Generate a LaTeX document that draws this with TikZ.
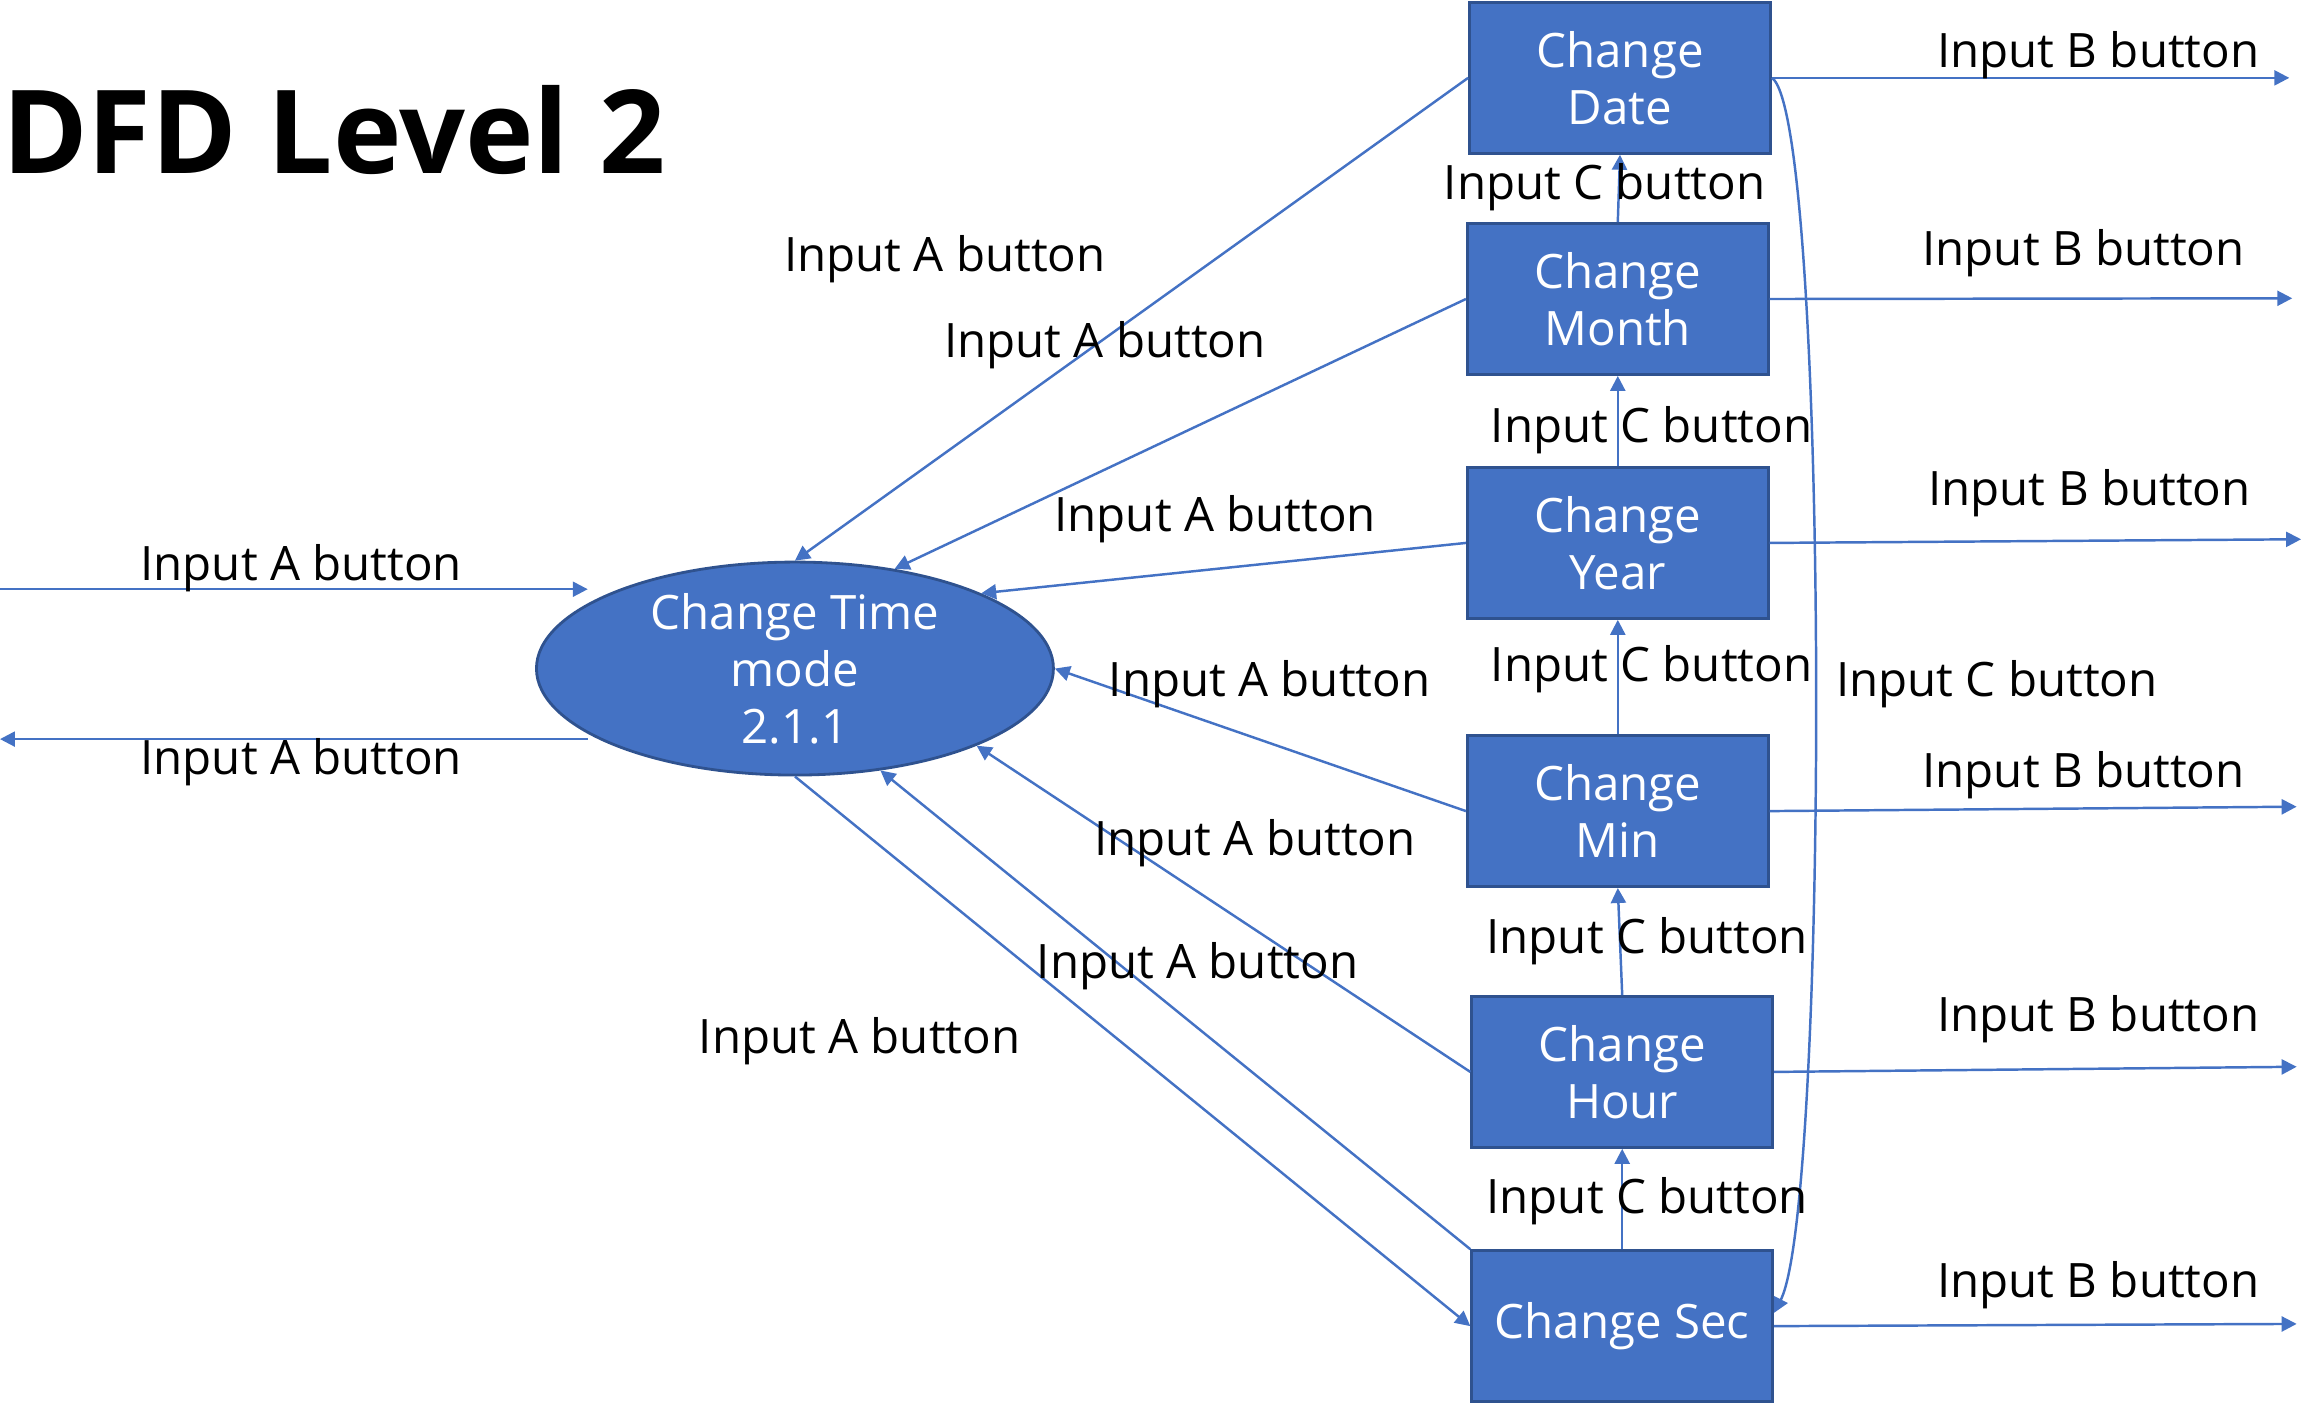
\documentclass[tikz,border=0pt]{standalone}
\usepackage{fontspec}
\setmainfont{Open Sans}
\usetikzlibrary{shapes.geometric,arrows.meta}
\definecolor{dfdblue}{HTML}{4472C4}
\definecolor{dfdedge}{HTML}{2F528F}
\tikzstyle{procbox} = [draw=dfdedge, fill=dfdblue, line width=0.8pt,
    rectangle, minimum width=3.01cm, minimum height=1.51cm, inner sep=0,
    align=center, text=white, font=\fontsize{13.5}{16.2}\selectfont]
\tikzstyle{modeproc} = [draw=dfdedge, fill=dfdblue, line width=0.8pt,
    ellipse, minimum width=5.17cm, minimum height=2.13cm, inner sep=0]
\tikzstyle{flowlabel} = [font=\fontsize{13.5}{16.2}\selectfont, anchor=base, inner sep=0]
\tikzstyle{flow} = [draw=dfdblue, line width=0.7pt, -{Triangle[length=1.5mm,width=1.5mm]}]

\begin{document}
\begin{tikzpicture}[x=0.014694cm, y=-0.014694cm]
\useasboundingbox (0,0) rectangle (1568,956);
\node[anchor=base west, inner sep=0, font=\fontsize{33}{40}\selectfont\bfseries] (title) at (1,118) {DFD Level 2};

% process nodes
\node [modeproc] (mode) at (541,455) {};
\node [align=center, text=white, font=\fontsize{13.5}{16.2}\selectfont] (modetext) at (mode) {Change Time\\mode\\2.1.1};
\node [procbox] (date) at (1102.5,53) {Change\\Date};
\node [procbox] (month) at (1101,203.5) {Change\\Month};
\node [procbox] (year) at (1101,369.5) {Change\\Year};
\node [procbox] (minute) at (1101,552) {Change\\Min};
\node [procbox] (hour) at (1104,729.5) {Change\\Hour};
\node [procbox] (sec) at (1104,902.5) {Change Sec};

% free ends
\coordinate (inA) at (0,401);
\coordinate (inAend) at (400,401);
\coordinate (outAstart) at (400,503);
\coordinate (outA) at (0,503);
\coordinate (outdate) at (1558,53);
\coordinate (outmonth) at (1560,203);
\coordinate (outyear) at (1566,367);
\coordinate (outminute) at (1563,549);
\coordinate (outhour) at (1563,726);
\coordinate (outsec) at (1563,901);

% Input A
\draw [flow] (inA) -- (inAend);
\draw [flow] (outAstart) -- (outA);
\draw [flow] (date.west) -- (mode.north);
\draw [flow] (month.west) -- (mode.45);
\draw [flow] (year.west) -- (mode.22);
\draw [flow] (minute.west) -- (mode.east);
\draw [flow] (hour.west) -- (mode.337);
\draw [flow] (sec.north west) -- (mode.310);
\draw [flow] (mode.south) -- (sec.west);

% Input C
\draw [flow] (month.north) -- (date.south);
\draw [flow] (year.north) -- (month.south);
\draw [flow] (minute.north) -- (year.south);
\draw [flow] (hour.north) -- (minute.south);
\draw [flow] (sec.north) -- (hour.south);
\draw [flow] (date.east) .. controls (1245,80) and (1245,820) .. (sec.5);

% Input B
\draw [flow] (date.east) -- (outdate);
\draw [flow] (month.east) -- (outmonth);
\draw [flow] (year.east) -- (outyear);
\draw [flow] (minute.east) -- (outminute);
\draw [flow] (hour.east) -- (outhour);
\draw [flow] (sec.east) -- (outsec);

% labels
\node [flowlabel] (lin) at (205,395) {Input A button};
\node [flowlabel] (lout) at (205,527) {Input A button};
\node [flowlabel] (ladate) at (643,185) {Input A button};
\node [flowlabel] (lamonth) at (752,243) {Input A button};
\node [flowlabel] (layear) at (827,362) {Input A button};
\node [flowlabel] (laminute) at (864,474) {Input A button};
\node [flowlabel] (lahour) at (854,582) {Input A button};
\node [flowlabel] (lasec) at (815,666) {Input A button};
\node [flowlabel] (latosec) at (585,717) {Input A button};
\node [flowlabel] (lcdate) at (1092,136) {Input C button};
\node [flowlabel] (lcmonth) at (1124,301) {Input C button};
\node [flowlabel] (lcyear) at (1124,464) {Input C button};
\node [flowlabel] (lcminute) at (1121,649) {Input C button};
\node [flowlabel] (lchour) at (1121,826) {Input C button};
\node [flowlabel] (lcsec) at (1359,474) {Input C button};
\node [flowlabel] (lbdate) at (1428,46) {Input B button};
\node [flowlabel] (lbmonth) at (1418,181) {Input B button};
\node [flowlabel] (lbyear) at (1422,344) {Input B button};
\node [flowlabel] (lbminute) at (1418,536) {Input B button};
\node [flowlabel] (lbhour) at (1428,702) {Input B button};
\node [flowlabel] (lbsec) at (1428,883) {Input B button};
\end{tikzpicture}
\end{document}
